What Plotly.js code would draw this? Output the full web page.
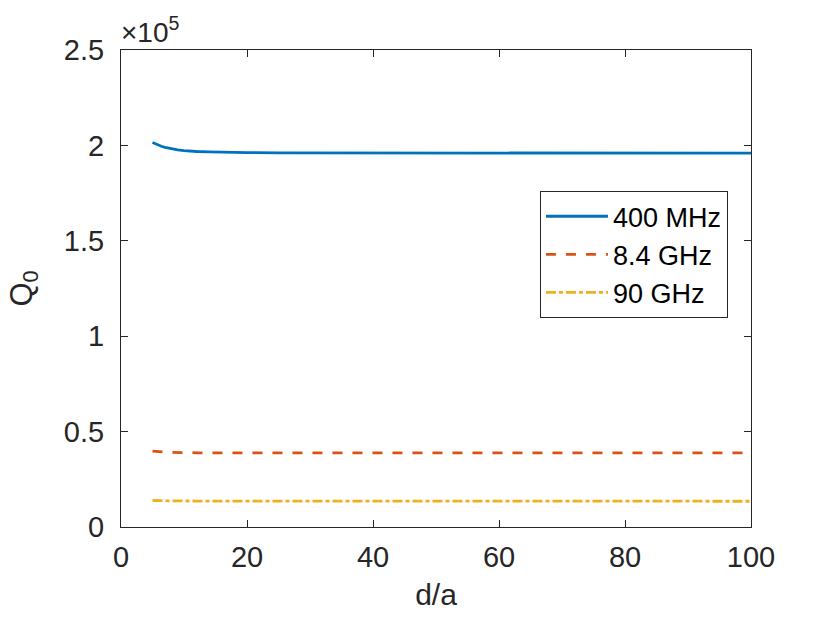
<!DOCTYPE html>
<html>
<head>
<meta charset="utf-8">
<script src="https://cdn.plot.ly/plotly-3.0.1.min.js"></script>
<style>html,body{margin:0;padding:0;background:#fff;}</style>
</head>
<body>
<div id="chart" style="width:830px;height:623px;"></div>
<script>
// d/a values
const da = [5, 5.5, 6, 6.5, 7, 7.5, 8, 9, 10, 11, 12, 14, 16, 18, 20, 25, 30, 40, 50, 60, 70, 80, 90, 100];
// Q0 values in units of 1e5
const q400MHz = [2.015, 2.007, 2.000, 1.994, 1.990, 1.986, 1.982, 1.977, 1.973, 1.970, 1.968, 1.966, 1.964, 1.963, 1.962, 1.961, 1.961, 1.960, 1.960, 1.960, 1.959, 1.959, 1.959, 1.959];
const q84GHz  = [0.398, 0.396, 0.394, 0.393, 0.392, 0.391, 0.391, 0.390, 0.390, 0.389, 0.389, 0.389, 0.389, 0.389, 0.389, 0.389, 0.389, 0.388, 0.388, 0.388, 0.388, 0.388, 0.388, 0.388];
const q90GHz  = [0.139, 0.138, 0.138, 0.137, 0.137, 0.137, 0.137, 0.136, 0.136, 0.136, 0.136, 0.136, 0.136, 0.136, 0.136, 0.135, 0.135, 0.135, 0.135, 0.135, 0.135, 0.135, 0.135, 0.135];
const names = ["400 MHz", "8.4 GHz", "90 GHz"];
const xTicks = [0, 20, 40, 60, 80, 100];
const yTicks = [0, 0.5, 1, 1.5, 2, 2.5];
const yTickText = ["0", "0.5", "1", "1.5", "2", "2.5"];

const font = "Liberation Sans, Arial, Helvetica, sans-serif";
const axisColor = "#262626";

const traces = [
  {x: da, y: q400MHz, name: names[0], mode: "lines", line: {color: "#0072BD", width: 2.8, dash: "solid"}},
  {x: da, y: q84GHz, name: names[1], mode: "lines", line: {color: "#D95319", width: 2.8, dash: "10px,10px"}},
  {x: da, y: q90GHz, name: names[2], mode: "lines", line: {color: "#EDB120", width: 2.8, dash: "10px,3px,4px,3px"}}
];

const layout = {
  width: 830, height: 623,
  margin: {l: 121, r: 79, t: 50, b: 96},
  paper_bgcolor: "#fff", plot_bgcolor: "#fff",
  font: {family: font, color: axisColor, size: 29},
  showlegend: true,
  legend: {
    x: 0.665, y: 0.704, xanchor: "left", yanchor: "top",
    bgcolor: "#fff", bordercolor: axisColor, borderwidth: 1,
    font: {family: font, size: 27, color: "#000"},
    tracegroupgap: 0, itemwidth: 62
  },
  xaxis: {
    range: [0, 100], tickvals: xTicks, ticktext: xTicks.map(String),
    ticks: "inside", ticklen: 7, tickwidth: 1, tickcolor: axisColor,
    showline: true, linecolor: axisColor, linewidth: 1, mirror: "ticks",
    showgrid: false, zeroline: false,
    tickfont: {family: font, size: 29, color: axisColor},
    ticklabelstandoff: 4,
    title: {text: "d/a", font: {family: font, size: 30, color: axisColor}, standoff: 12}
  },
  yaxis: {
    range: [0, 2.5], tickvals: yTicks, ticktext: yTickText,
    ticks: "inside", ticklen: 7, tickwidth: 1, tickcolor: axisColor,
    showline: true, linecolor: axisColor, linewidth: 1, mirror: "ticks",
    showgrid: false, zeroline: false,
    tickfont: {family: font, size: 29, color: axisColor},
    ticklabelstandoff: 10,
    title: {text: "Q<sub>0</sub>", font: {family: font, size: 31, color: axisColor}, standoff: 22}
  },
  annotations: [{
    xref: "paper", yref: "paper", x: 0, y: 1, xanchor: "left", yanchor: "bottom",
    text: "×10<sup>5</sup>", showarrow: false, xshift: -2, yshift: 0,
    font: {family: font, size: 28, color: axisColor}
  }]
};

Plotly.newPlot("chart", traces, layout, {displayModeBar: false, staticPlot: true});
</script>
</body>
</html>
